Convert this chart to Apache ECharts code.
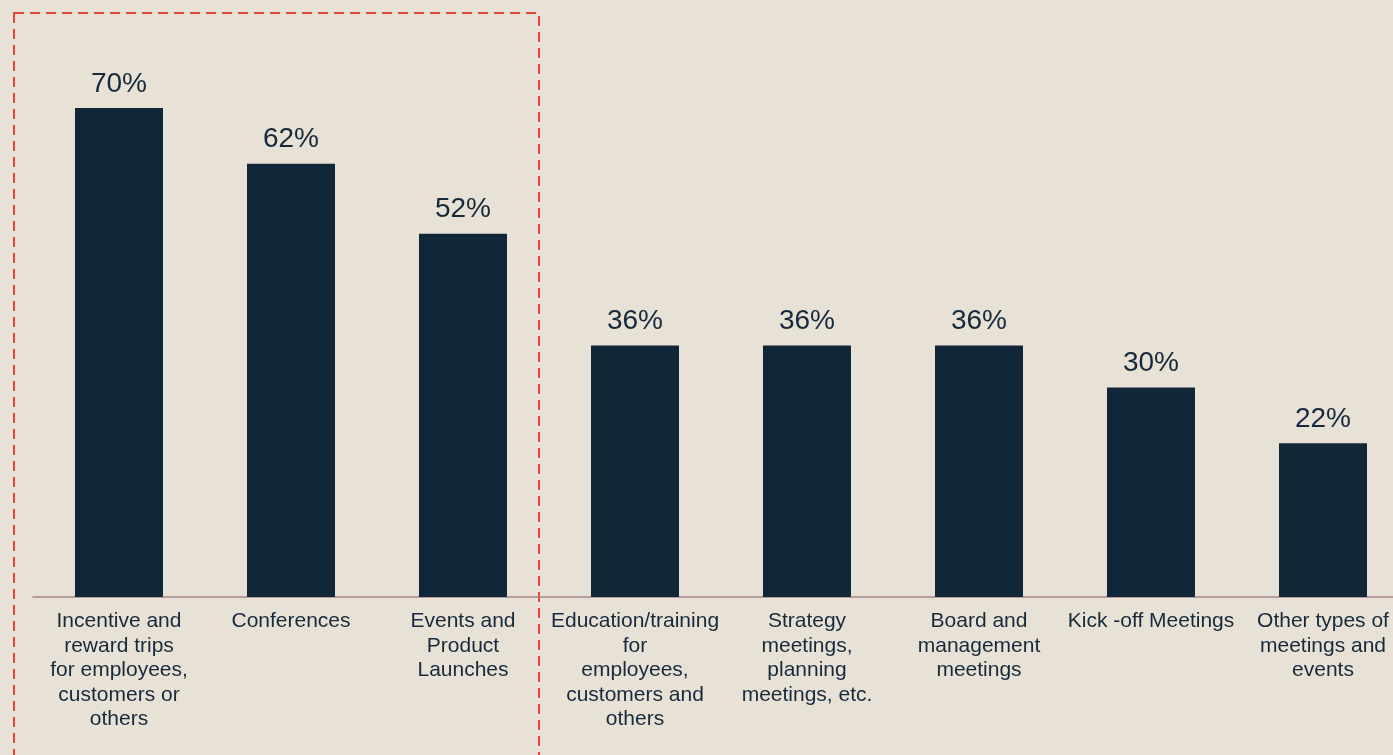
<!DOCTYPE html>
<html>
<head>
<meta charset="utf-8">
<title>Meeting and event types</title>
<script src="https://cdn.jsdelivr.net/npm/echarts@6/dist/echarts.min.js"></script>
<style>
  html, body { margin: 0; padding: 0; background: #E8E1D6; }
  #chart { width: 1393px; height: 755px; }
</style>
</head>
<body>
<div id="chart"></div>
<script>
// Category labels (line breaks as they are set under the bars)
const categories = [
  'Incentive and\nreward trips\nfor employees,\ncustomers or\nothers',
  'Conferences',
  'Events and\nProduct\nLaunches',
  'Education/training\nfor\nemployees,\ncustomers and\nothers',
  'Strategy\nmeetings,\nplanning\nmeetings, etc.',
  'Board and\nmanagement\nmeetings',
  'Kick -off Meetings',
  'Other types of\nmeetings and\nevents'
];

// Share of respondents, in percent
const shares = [70, 62, 52, 36, 36, 36, 30, 22];

const textColor = '#172A3C';
const barColor = '#12263A';
const font = '"Liberation Sans", Arial, sans-serif';

const chart = echarts.init(document.getElementById('chart'));

chart.setOption({
  backgroundColor: '#E8E1D6',
  animation: false,
  // the plot runs a little past the right edge of the page
  grid: {
    left: 33, top: 38, right: -16, bottom: 158,
    containLabel: false,
    outerBoundsMode: 'none'
  },
  xAxis: {
    type: 'category',
    data: categories,
    axisTick: { show: false },
    axisLine: { show: true, lineStyle: { color: '#A88489', width: 1.5 } },
    axisLabel: {
      interval: 0,
      margin: 12,
      color: textColor,
      fontFamily: font,
      fontSize: 21,
      lineHeight: 24.5,
      align: 'center',
      hideOverlap: false
    }
  },
  yAxis: {
    type: 'value',
    min: 0,
    max: 80,
    show: false,
    splitLine: { show: false }
  },
  series: [{
    type: 'bar',
    data: shares,
    barWidth: 88,
    itemStyle: { color: barColor },
    label: {
      show: true,
      position: 'top',
      distance: 10,
      color: textColor,
      fontFamily: font,
      fontSize: 28,
      formatter: p => p.value + '%'
    }
  }],
  graphic: [{
    type: 'rect',
    silent: true,
    shape: { x: 14, y: 13, width: 525, height: 800 },
    style: {
      fill: 'none',
      stroke: '#E4453C',
      lineWidth: 2,
      lineDash: [10, 6]
    }
  }]
});
</script>
</body>
</html>
